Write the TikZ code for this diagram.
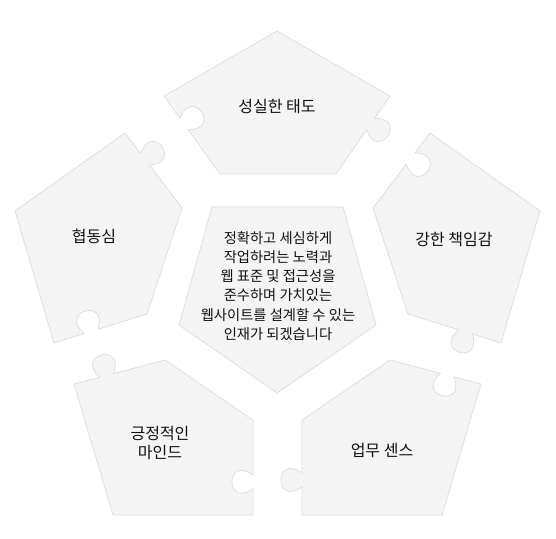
\documentclass[tikz,border=0pt]{standalone}
\usepackage{fontspec}
\setmainfont{Noto Sans CJK KR}
\usetikzlibrary{calc}
\definecolor{piecefill}{HTML}{F4F4F4}
\definecolor{pieceedge}{HTML}{DEDEDE}
\definecolor{textc}{HTML}{111111}
\begin{document}
\begin{tikzpicture}[x=1pt,y=-1pt,
  piece/.style={fill=piecefill, draw=pieceedge, line width=0.8pt, line join=round},
  tab/.style={out=125, in=55, relative, looseness=6.3},
  slot/.style={out=-125, in=-55, relative, looseness=6.3},
  lbl/.style={text=textc, font=\fontsize{16}{19.4}\selectfont, align=center, inner sep=0pt},
  midlbl/.style={text=textc, font=\fontsize{14.3}{19.2}\selectfont, align=center, inner sep=0pt}]
\fill[white] (0,0) rectangle (556,538);
\useasboundingbox (0,0) rectangle (556,538);
% ---------- vertices ----------
% top piece
\coordinate (TA) at (277,31);   \coordinate (TOR) at (390,96);
\coordinate (TIR) at (336,174); \coordinate (TIL) at (220,174);
\coordinate (TOL) at (164,96);
% right piece
\coordinate (RTO) at (430,133); \coordinate (RA) at (540,211);
\coordinate (RBO) at (501,343); \coordinate (RBI) at (408,314);
\coordinate (RTI) at (373,208);
% bottom-right piece
\coordinate (BRA) at (442,515); \coordinate (BRR) at (302,515);
\coordinate (BRB) at (302,420); \coordinate (BRT) at (390,360);
\coordinate (BRO) at (481,384);
% bottom-left piece
\coordinate (BLA) at (113,515); \coordinate (BLO) at (74,384);
\coordinate (BLT) at (165,360); \coordinate (BLB) at (253,420);
\coordinate (BLR) at (253,515);
% left piece
\coordinate (LA) at (15,211);   \coordinate (LTO) at (125,133);
\coordinate (LTI) at (182,208); \coordinate (LBI) at (147,314);
\coordinate (LBO) at (54,343);
% centre
\coordinate (C1) at (212,207); \coordinate (C2) at (343,207);
\coordinate (C3) at (376,325); \coordinate (C4) at (277,393);
\coordinate (C5) at (179,325);
% ---------- knob positions ----------
\coordinate (Tt) at ($(TOR)!.36!(TIR)$); \coordinate (Ts) at ($(TIL)!.64!(TOL)$);
\coordinate (Rt) at ($(RBO)!.38!(RBI)$); \coordinate (Rs) at ($(RTI)!.66!(RTO)$);
\coordinate (BRt) at ($(BRR)!.37!(BRB)$); \coordinate (BRs) at ($(BRT)!.63!(BRO)$);
\coordinate (BLt) at ($(BLO)!.36!(BLT)$); \coordinate (BLs) at ($(BLB)!.65!(BLR)$);
\coordinate (Lt) at ($(LTO)!.35!(LTI)$); \coordinate (Ls) at ($(LBI)!.6!(LBO)$);
% ---------- pieces ----------
\path[piece] (TA) -- (TOR) -- ($(Tt)!7pt!(TOR)$) to[tab] ($(Tt)!7pt!(TIR)$)
  -- (TIR) -- (TIL) -- ($(Ts)!7pt!(TIL)$) to[slot] ($(Ts)!7pt!(TOL)$) -- (TOL) -- cycle;
\path[piece] (RTO) -- (RA) -- (RBO) -- ($(Rt)!7pt!(RBO)$) to[tab] ($(Rt)!7pt!(RBI)$)
  -- (RBI) -- (RTI) -- ($(Rs)!7pt!(RTI)$) to[slot] ($(Rs)!7pt!(RTO)$) -- cycle;
\path[piece] (BRA) -- (BRR) -- ($(BRt)!7pt!(BRR)$) to[tab] ($(BRt)!7pt!(BRB)$)
  -- (BRB) -- (BRT) -- ($(BRs)!7pt!(BRT)$) to[slot] ($(BRs)!7pt!(BRO)$) -- (BRO) -- cycle;
\path[piece] (BLA) -- (BLO) -- ($(BLt)!7pt!(BLO)$) to[tab] ($(BLt)!7pt!(BLT)$)
  -- (BLT) -- (BLB) -- ($(BLs)!7pt!(BLB)$) to[slot] ($(BLs)!7pt!(BLR)$) -- (BLR) -- cycle;
\path[piece] (LA) -- (LTO) -- ($(Lt)!7pt!(LTO)$) to[tab] ($(Lt)!7pt!(LTI)$)
  -- (LTI) -- (LBI) -- ($(Ls)!7pt!(LBI)$) to[slot] ($(Ls)!7pt!(LBO)$) -- (LBO) -- cycle;
\path[piece] (C1) -- (C2) -- (C3) -- (C4) -- (C5) -- cycle;
% ---------- labels ----------
\node[lbl] (tT) at (277,107) {성실한 태도};
\node[lbl] (tR) at (454,240) {강한 책임감};
\node[lbl] (tBR) at (382,450) {업무 센스};
\node[lbl] (tBL) at (160,443) {긍정적인\\마인드};
\node[lbl] (tL) at (94,236) {협동심};
\node[midlbl] (tC) at (278,286) {정확하고 세심하게\\작업하려는 노력과\\웹 표준 및 접근성을\\준수하며 가치있는\\웹사이트를 설계할 수 있는\\인재가 되겠습니다};
\end{tikzpicture}
\end{document}
